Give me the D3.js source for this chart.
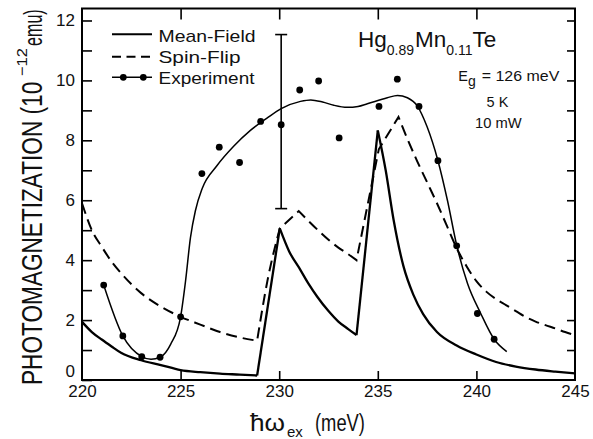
<!DOCTYPE html>
<html>
<head>
<meta charset="utf-8">
<script src="https://cdn.jsdelivr.net/npm/d3@7"></script>
<style>
  body { margin: 0; background: #fff; }
  text { font-family: "Liberation Sans", Arial, sans-serif; fill: #111; }
</style>
</head>
<body>
<svg id="chart" width="593" height="439"></svg>
<script>
// ---- data ----
const xTickValues = [220, 225, 230, 235, 240, 245];
const xInnerTicks = [225, 230, 235, 240];
const yTickValues = [0, 2, 4, 6, 8, 10, 12];
const yMinorTicks = [1, 3, 5, 7, 9, 11];
const rightTicks = [1, 2, 3, 4, 5, 6, 7, 8, 9, 10, 11, 12];

// measured photomagnetization points
const expEnergy = [221.1, 222.07, 223.03, 223.96, 225.0, 226.08, 226.96, 227.99, 229.06, 230.1,
                   231.04, 232.0, 233.04, 235.06, 235.99, 237.09, 238.05, 239.0, 240.05, 240.9];
const expValue  = [3.17, 1.47, 0.78, 0.76, 2.11, 6.89, 7.77, 7.26, 8.63, 8.52,
                   9.68, 9.98, 8.08, 9.13, 10.04, 9.13, 7.32, 4.48, 2.22, 1.36];

// smooth guide line through the measurements
const fitEnergy = [221.1, 222.07, 223.03, 223.5, 223.96, 224.5, 225.0, 225.25, 225.5, 225.75, 226.1,
                   226.84, 227.69, 228.54, 229.38, 230.1, 231.08, 231.6, 232.2, 232.77, 233.45, 234.0,
                   234.47, 235.48, 236.0, 236.5, 237.0, 237.5, 238.05, 238.53, 239.0, 239.55, 240.22,
                   240.9, 241.54];
const fitValue  = [3.17, 1.47, 0.78, 0.69, 0.76, 1.2, 2.11, 3.3, 4.75, 5.65, 6.4,
                   7.15, 7.8, 8.33, 8.74, 9.06, 9.3, 9.35, 9.28, 9.17, 9.1, 9.13,
                   9.22, 9.42, 9.5, 9.42, 9.15, 8.45, 7.32, 6.0, 4.5, 3.22, 2.22,
                   1.36, 0.95];

// mean-field model
const mfEnergy = [220, 220.5, 221, 221.5, 222, 223, 224, 225, 226, 227, 228, 228.88,
                  230.03, 230.5, 231.08, 231.5, 231.93, 232.5, 233, 233.5, 233.92,
                  235.0, 235.4, 235.8, 236.3, 236.8, 237.3, 238, 239, 240, 241, 242, 243, 244, 245];
const mfValue  = [1.94, 1.6, 1.35, 1.12, 0.9, 0.66, 0.5, 0.33, 0.26, 0.21, 0.18, 0.15,
                  5.06, 4.3, 3.67, 3.2, 2.78, 2.3, 1.95, 1.7, 1.5,
                  8.33, 7.0, 5.35, 3.8, 2.85, 2.2, 1.6, 1.15, 0.85, 0.6, 0.45, 0.35, 0.28, 0.22];
const mfCusps  = [228.88, 230.03, 233.92, 235.0];

// spin-flip model
const sfEnergy = [220, 220.5, 221, 221.5, 222, 223, 224, 225, 226, 227, 228, 228.88,
                  229.4, 230.03, 230.99, 231.5, 232, 232.5, 233, 233.5, 233.92,
                  235.05, 236.05, 236.5, 237, 237.5, 238, 238.5, 239, 239.5, 240, 240.5,
                  241, 241.5, 242, 242.5, 243, 243.5, 244, 244.5, 245];
const sfValue  = [5.9, 5.0, 4.45, 3.95, 3.55, 2.9, 2.45, 2.11, 1.85, 1.6, 1.42, 1.31,
                  3.3, 5.06, 5.64, 5.3, 4.98, 4.68, 4.42, 4.2, 4.0,
                  7.7, 8.78, 8.05, 7.3, 6.6, 5.9, 5.15, 4.4, 3.8, 3.3, 2.95,
                  2.7, 2.5, 2.3, 2.1, 1.95, 1.83, 1.72, 1.6, 1.5];
const sfCusps  = [228.88, 230.03, 230.99, 233.92, 235.05, 236.05];

// representative error bar
const errEnergy = [230.1];
const errLow = [5.72];
const errHigh = [11.53];

const legendLabels = ["Mean-Field", "Spin-Flip", "Experiment"];

// ---- layout ----
const svg = d3.select("#chart");
const plotL = 82, plotR = 575, plotT = 8.5, plotB = 380;
const x = d3.scaleLinear().domain([220, 245]).range([plotL, plotR]);
const y = d3.scaleLinear().domain([0, 12.4]).range([plotB, plotT]);

// split a series into pieces at sharp corners
function pieces(en, val, cusps) {
  const pts = en.map((e, i) => [e, val[i]]);
  const out = [];
  let cur = [];
  pts.forEach(p => {
    cur.push(p);
    if (cusps.includes(p[0])) { out.push(cur); cur = [p]; }
  });
  if (cur.length > 1) out.push(cur);
  return out;
}

const smooth = d3.line().x(d => x(d[0])).y(d => y(d[1])).curve(d3.curveMonotoneX);

// mean-field
svg.append("g").selectAll("path")
  .data(pieces(mfEnergy, mfValue, mfCusps)).join("path")
  .attr("d", smooth).attr("fill", "none").attr("stroke", "#000")
  .attr("stroke-width", 2.3).attr("stroke-linejoin", "miter");

// spin-flip (dashed, one continuous path so the dash pattern flows)
const sfPieces = pieces(sfEnergy, sfValue, sfCusps);
svg.append("path")
  .attr("d", sfPieces.map(p => smooth(p)).map((s, i) => i === 0 ? s : s.replace(/^M/, "L")).join(""))
  .attr("fill", "none").attr("stroke", "#000").attr("stroke-width", 2)
  .attr("stroke-dasharray", "11,6");

// experiment guide line
svg.append("path")
  .datum(fitEnergy.map((e, i) => [e, fitValue[i]]))
  .attr("d", smooth).attr("fill", "none").attr("stroke", "#000").attr("stroke-width", 1.5);

// experiment points
svg.append("g").selectAll("circle")
  .data(expEnergy.map((e, i) => [e, expValue[i]])).join("circle")
  .attr("cx", d => x(d[0])).attr("cy", d => y(d[1])).attr("r", 3.4).attr("fill", "#000");

// error bar
const eb = svg.append("g").attr("stroke", "#000").attr("stroke-width", 1.6);
errEnergy.forEach((e, i) => {
  eb.append("line").attr("x1", x(e)).attr("x2", x(e)).attr("y1", y(errLow[i])).attr("y2", y(errHigh[i]));
  [errLow[i], errHigh[i]].forEach(v => {
    eb.append("line").attr("x1", x(e) - 6).attr("x2", x(e) + 6).attr("y1", y(v)).attr("y2", y(v));
  });
});

// ---- axes ----
const axisStyle = g => {
  g.select(".domain").remove();
  g.selectAll(".tick line").attr("stroke", "#000").attr("stroke-width", 1.6);
  g.selectAll(".tick text").attr("font-size", 17).attr("fill", "#111")
    .attr("font-family", "'Liberation Sans', Arial, sans-serif");
};

svg.append("g").attr("transform", `translate(0,${plotB})`)
  .call(d3.axisBottom(x).tickValues(xTickValues).tickSize(-9).tickPadding(5).tickFormat(d3.format("d")))
  .call(axisStyle)
  .call(g => g.selectAll(".tick line").filter(d => !xInnerTicks.includes(d)).remove());

svg.append("g").attr("transform", `translate(0,${plotT})`)
  .call(d3.axisTop(x).tickValues(xInnerTicks).tickSize(-11).tickFormat(""))
  .call(axisStyle);

svg.append("g").attr("transform", `translate(${plotL},0)`)
  .call(d3.axisLeft(y).tickValues(yTickValues).tickSize(-10).tickPadding(7).tickFormat(d3.format("d")))
  .call(axisStyle)
  .call(g => g.selectAll(".tick text").filter(d => d === 0).attr("dy", "-0.2em"));

svg.append("g").attr("transform", `translate(${plotL},0)`)
  .call(d3.axisLeft(y).tickValues(yMinorTicks).tickSize(-10).tickFormat(""))
  .call(axisStyle);

svg.append("g").attr("transform", `translate(${plotR},0)`)
  .call(d3.axisRight(y).tickValues(rightTicks).tickSize(-8).tickFormat(""))
  .call(axisStyle);

// frame
svg.append("rect").attr("x", plotL).attr("y", plotT)
  .attr("width", plotR - plotL).attr("height", plotB - plotT)
  .attr("fill", "none").attr("stroke", "#000").attr("stroke-width", 2);

// ---- axis titles ----
// vertical title, built from condensed pieces (each scaled along the reading direction)
function vText(txt, bx, by, size, sx) {
  return svg.append("text")
    .attr("transform", `translate(${bx},${by}) rotate(-90) scale(${sx},1)`)
    .attr("font-size", size).text(txt);
}
vText("PHOTOMAGNETIZATION (10", 42, 385, 29, 0.78);
vText("\u221212", 27, 76, 15, 1.1);
vText("emu)", 42, 46, 26, 0.62);

const xTitle = svg.append("text").attr("x", 250).attr("y", 431).attr("font-size", 23);
xTitle.append("tspan").text("\u0127\u03C9").attr("textLength", 35).attr("lengthAdjust", "spacingAndGlyphs");
xTitle.append("tspan").text("ex").attr("font-size", 15).attr("dy", 6).attr("dx", 2);
xTitle.append("tspan").text("(meV)").attr("x", 315).attr("dy", -6)
  .attr("textLength", 50).attr("lengthAdjust", "spacingAndGlyphs");

// ---- legend ----
const legendLineY = [34.3, 56.7, 77.3];
const legendTextY = [41.7, 62.7, 83.7];
const legendTextLen = [97, 82, 96];
const lg = svg.append("g");
lg.append("line").attr("x1", 112).attr("x2", 152).attr("y1", legendLineY[0]).attr("y2", legendLineY[0])
  .attr("stroke", "#000").attr("stroke-width", 2);
lg.append("line").attr("x1", 112).attr("x2", 152).attr("y1", legendLineY[1]).attr("y2", legendLineY[1])
  .attr("stroke", "#000").attr("stroke-width", 2).attr("stroke-dasharray", "9,5.5");
lg.append("line").attr("x1", 112).attr("x2", 152).attr("y1", legendLineY[2]).attr("y2", legendLineY[2])
  .attr("stroke", "#000").attr("stroke-width", 1.5);
[123.3, 143.3].forEach(cx => lg.append("circle").attr("cx", cx).attr("cy", legendLineY[2]).attr("r", 3.4).attr("fill", "#000"));
legendLabels.forEach((t, i) => {
  lg.append("text").attr("x", 158.5).attr("y", legendTextY[i]).attr("font-size", 17)
    .attr("textLength", legendTextLen[i]).attr("lengthAdjust", "spacingAndGlyphs").text(t);
});

// ---- sample annotation ----
const title = svg.append("text").attr("x", 358).attr("y", 46.7).attr("font-size", 22.5);
title.append("tspan").text("Hg");
title.append("tspan").text("0.89").attr("font-size", 14).attr("dy", 8);
title.append("tspan").text("Mn").attr("dy", -8).attr("dx", 1);
title.append("tspan").text("0.11").attr("font-size", 14).attr("dy", 8);
title.append("tspan").text("Te").attr("dy", -8);

const eg = svg.append("text").attr("x", 458.3).attr("y", 81).attr("font-size", 14.5);
eg.append("tspan").text("E");
eg.append("tspan").text("g").attr("font-size", 14).attr("dy", 5);
eg.append("tspan").text("= 126 meV").attr("x", 481.7).attr("dy", -5)
  .attr("textLength", 77.6).attr("lengthAdjust", "spacingAndGlyphs");

svg.append("text").attr("x", 497.5).attr("y", 107.3).attr("font-size", 14.5)
  .attr("text-anchor", "middle").text("5 K");
svg.append("text").attr("x", 498.3).attr("y", 128.3).attr("font-size", 14.5)
  .attr("text-anchor", "middle").attr("textLength", 46.7).attr("lengthAdjust", "spacingAndGlyphs").text("10 mW");
</script>
</body>
</html>
